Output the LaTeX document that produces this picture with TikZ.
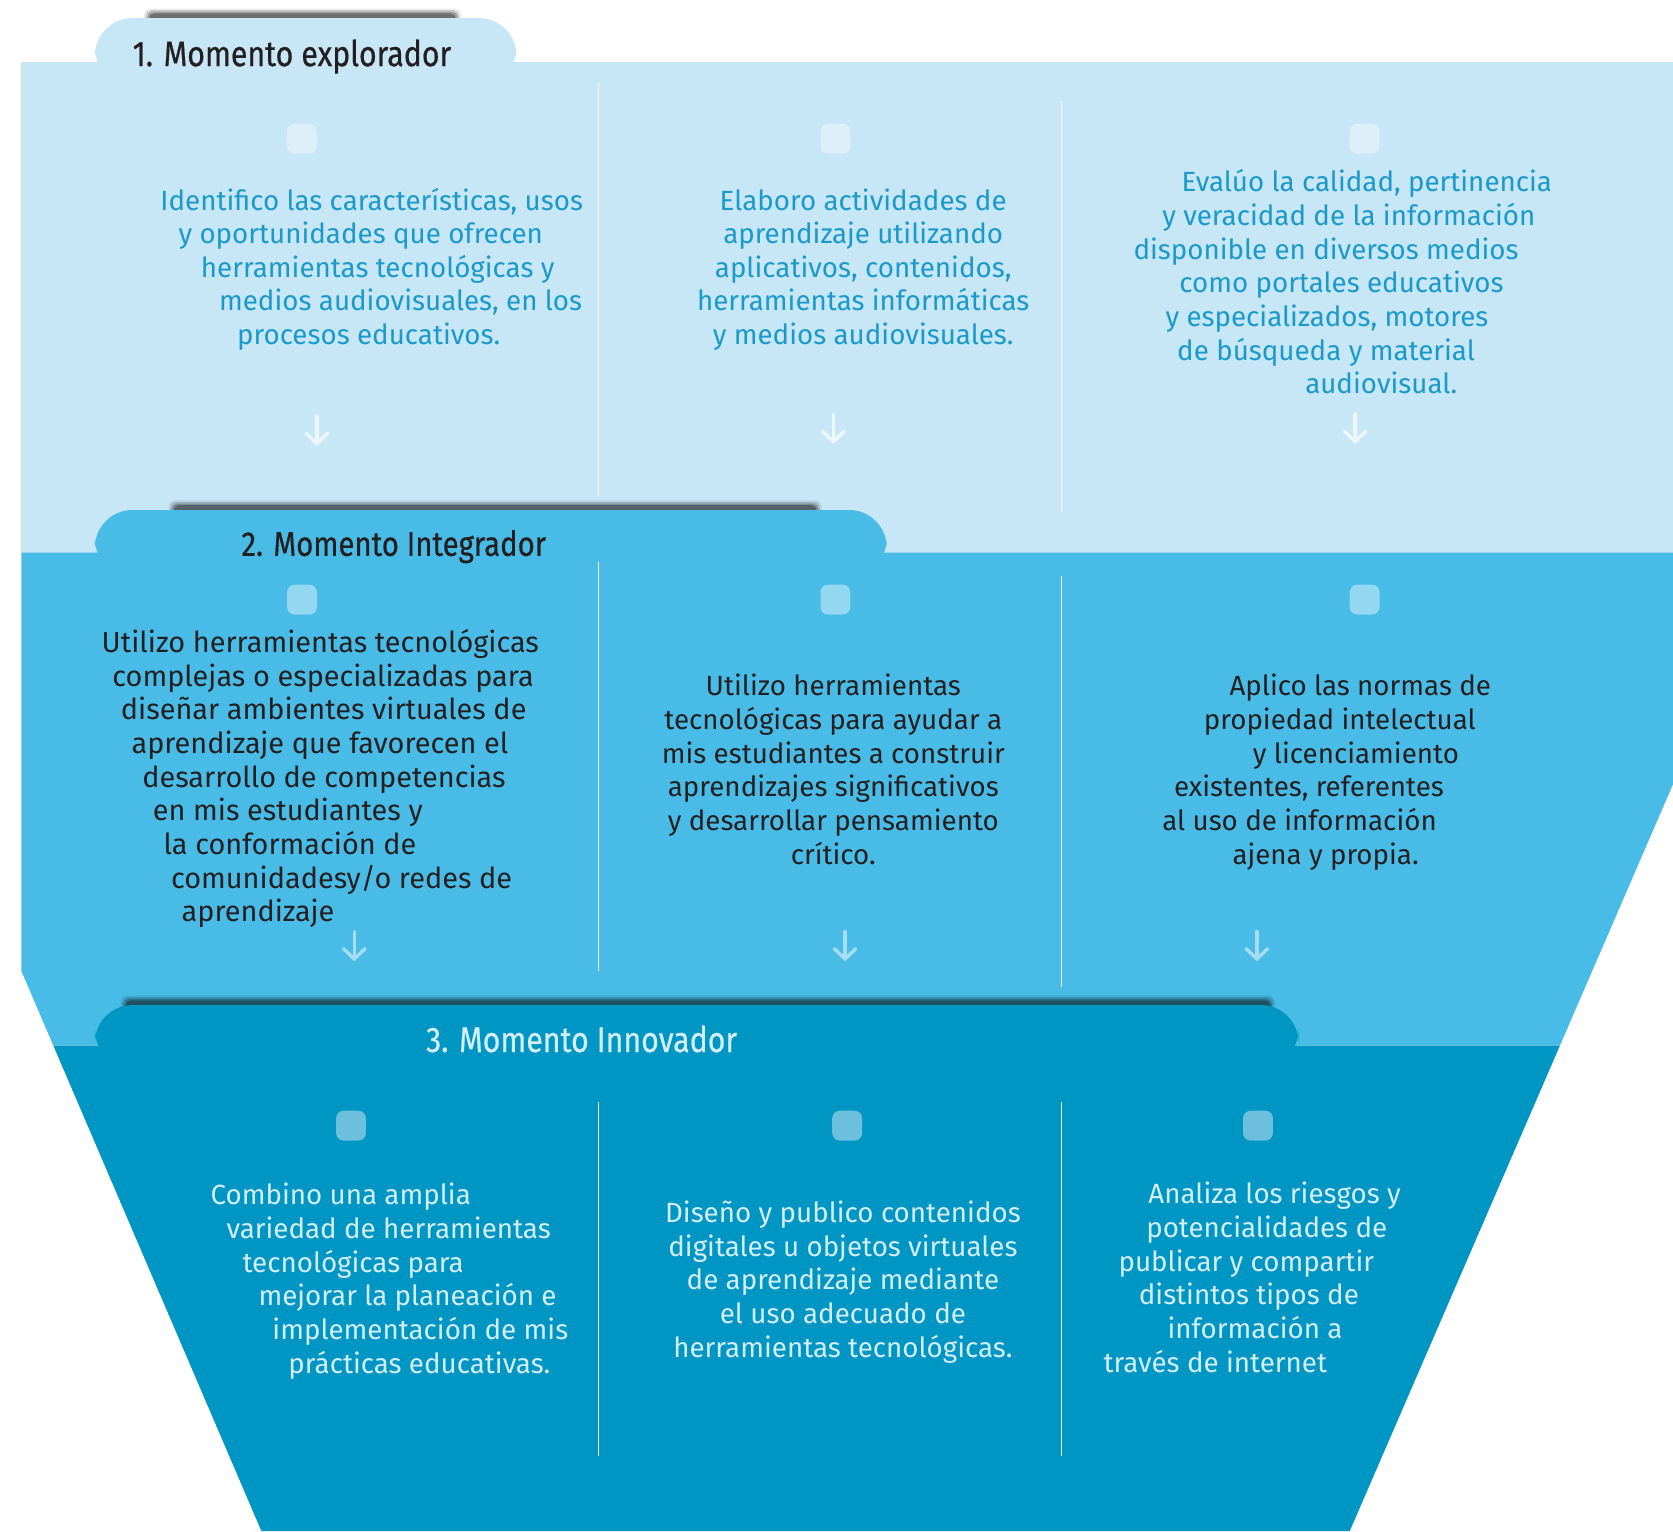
\documentclass[tikz,border=0pt]{standalone}
\usepackage{fontspec}
\setmainfont{Fira Sans}
\newfontfamily\headfont[FakeStretch=0.85,FakeBold=0.5]{Fira Sans}
\usetikzlibrary{arrows.meta}
\definecolor{bandA}{HTML}{C7E6F6}
\definecolor{bandB}{HTML}{48BCE6}
\definecolor{bandC}{HTML}{0096C3}
\definecolor{inkA}{HTML}{1A9ACB}
\definecolor{inkB}{HTML}{231F20}
\definecolor{inkC}{HTML}{D4EEF9}
\definecolor{tileA}{HTML}{DDF0FA}
\definecolor{tileB}{HTML}{93D7F1}
\definecolor{tileC}{HTML}{6CBFDD}
\definecolor{arrowA}{HTML}{EEF7FD}
\definecolor{arrowB}{HTML}{A6DDF3}
\tikzstyle{tab}=[rounded corners=20]
\tikzstyle{tile}=[rectangle, rounded corners=4pt, minimum size=0.56cm, inner sep=0pt]
% anchored at the baseline of the last line
\tikzstyle{txt}=[align=left, anchor=base west, inner sep=0pt, font=\fontsize{14.8}{17.95}\selectfont]
\tikzstyle{txtc}=[align=center, anchor=base, inner sep=0pt, font=\fontsize{14.8}{17.95}\selectfont]
\tikzstyle{head}=[anchor=base west, inner sep=0pt, font=\headfont\fontsize{19}{22}\selectfont]
\tikzstyle{divider}=[white, line width=0.6pt]
\tikzstyle{downarrow}=[line width=1.8pt, line cap=round, -{Straight Barb[length=5.5pt,width=11.5pt,line cap=round]}]
\newcommand{\tabshadow}[3]
{
  \foreach \s/\o in {0/0.08, 1.5/0.14, 3/0.22, 4.5/0.3}
    \fill[black, opacity=\o, rounded corners=3] (#1+\s,#3-9+\s) rectangle (#2-\s,#3+12);
}

\begin{document}
\begin{tikzpicture}[x=0.02cm, y=-0.02cm]
	\useasboundingbox (0,0) rectangle (1568,1435);

	% band 1
	\tabshadow{135}{432}{17}
	\fill[bandA, tab] (89,17) rectangle (484,80);
	\fill[bandA] (20,58) rectangle (1568,518);
	% band 2
	\tabshadow{158}{770}{478}
	\fill[bandB] (20,518) -- (1568,518) -- (1568,735) -- (1462,980) -- (50,980) -- (20,910) -- cycle;
	\fill[bandB, tab] (89,478) rectangle (831,540);
	% band 3
	\tabshadow{113}{1195}{942}
	\fill[bandC] (50,980) -- (1462,980) -- (1265,1435) -- (245,1435) -- cycle;
	\fill[bandC, tab] (89,942) rectangle (1217,1000);

	\draw[divider] (561,78) -- (561,465);
	\draw[divider] (995,95) -- (995,480);
	\draw[divider] (561,527) -- (561,910);
	\draw[divider] (995,540) -- (995,925);
	\draw[divider] (561,1033) -- (561,1365);
	\draw[divider] (995,1033) -- (995,1365);

	\node[head, inkB] (head1) at (124,62) {1. Momento explorador};
	\node[head, inkB, font=\headfont\fontsize{18.4}{22}\selectfont] (head2) at (226,521) {2. Momento Integrador};
	\node[head, inkC] (head3) at (399,986) {3. Momento Innovador};

	\node[tile, fill=tileA] (tile1a) at (283,130) {};
	\node[tile, fill=tileA] (tile1b) at (783,130) {};
	\node[tile, fill=tileA] (tile1c) at (1279,130) {};
	\node[tile, fill=tileB] (tile2a) at (283,562) {};
	\node[tile, fill=tileB] (tile2b) at (783,562) {};
	\node[tile, fill=tileB] (tile2c) at (1279,562) {};
	\node[tile, fill=tileC] (tile3a) at (329,1055) {};
	\node[tile, fill=tileC] (tile3b) at (794,1055) {};
	\node[tile, fill=tileC] (tile3c) at (1179,1055) {};

	% momento explorador
	\node[txt, inkA] (txt1a) at (150,323) {Identifico las características, usos\\
		\hspace*{0.34cm}y oportunidades que ofrecen\\
		\hspace*{0.76cm}herramientas tecnológicas y\\
		\hspace*{1.10cm}medios audiovisuales, en los\\
		\hspace*{1.44cm}procesos educativos.};
	\node[txtc, inkA] (txt1b) at (809,323) {Elaboro actividades de\\aprendizaje utilizando\\aplicativos, contenidos,\\herramientas informáticas\\y medios audiovisuales.};
	\node[txt, inkA] (txt1c) at (1062,369) {\hspace*{0.90cm}Evalúo la calidad, pertinencia\\
		\hspace*{0.54cm}y veracidad de la información\\
		disponible en diversos medios\\
		\hspace*{0.86cm}como portales educativos\\
		\hspace*{0.60cm}y especializados, motores\\
		\hspace*{0.82cm}de búsqueda y material\\
		\hspace*{3.22cm}audiovisual.};

	% momento integrador
	\node[txt, inkB, font=\fontsize{15.4}{17.95}\selectfont] (txt2a) at (95,864) {Utilizo herramientas tecnológicas\\
		\hspace*{0.20cm}complejas o especializadas para\\
		\hspace*{0.36cm}diseñar ambientes virtuales de\\
		\hspace*{0.56cm}aprendizaje que favorecen el\\
		\hspace*{0.76cm}desarrollo de competencias\\
		\hspace*{0.96cm}en mis estudiantes y\\
		\hspace*{1.16cm}la conformación de\\
		\hspace*{1.30cm}comunidadesy/o redes de\\
		\hspace*{1.50cm}aprendizaje};
	\node[txtc, inkB] (txt2b) at (781,810) {Utilizo herramientas\\tecnológicas para ayudar a\\mis estudiantes a construir\\aprendizajes significativos\\y desarrollar pensamiento\\crítico.};
	\node[txt, inkB] (txt2c) at (1089,810) {\hspace*{1.26cm}Aplico las normas de\\
		\hspace*{0.78cm}propiedad intelectual\\
		\hspace*{1.70cm}y licenciamiento\\
		\hspace*{0.22cm}existentes, referentes\\
		al uso de información\\
		\hspace*{1.32cm}ajena y propia.};

	% momento innovador
	\node[txt, inkC] (txt3a) at (197,1287) {Combino una amplia\\
		\hspace*{0.30cm}variedad de herramientas\\
		\hspace*{0.60cm}tecnológicas para\\
		\hspace*{0.90cm}mejorar la planeación e\\
		\hspace*{1.16cm}implementación de mis\\
		\hspace*{1.46cm}prácticas educativas.};
	\node[txtc, inkC] (txt3b) at (790,1272) {Diseño y publico contenidos\\digitales u objetos virtuales\\de aprendizaje mediante\\el uso adecuado de\\herramientas tecnológicas.};
	\node[txt, inkC] (txt3c) at (1034,1286) {\hspace*{0.84cm}Analiza los riesgos y\\
		\hspace*{0.80cm}potencialidades de\\
		\hspace*{0.28cm}publicar y compartir\\
		\hspace*{0.66cm}distintos tipos de\\
		\hspace*{1.20cm}información a\\
		través de internet};

	\coordinate (arr1a) at (297,390);
	\coordinate (arr1b) at (781,388);
	\coordinate (arr1c) at (1270,388);
	\coordinate (arr2a) at (332,873);
	\coordinate (arr2b) at (792,873);
	\coordinate (arr2c) at (1178,873);
	\draw[downarrow, arrowA] (arr1a) -- ++(0,28);
	\draw[downarrow, arrowA] (arr1b) -- ++(0,28);
	\draw[downarrow, arrowA] (arr1c) -- ++(0,28);
	\draw[downarrow, arrowB] (arr2a) -- ++(0,28);
	\draw[downarrow, arrowB] (arr2b) -- ++(0,28);
	\draw[downarrow, arrowB] (arr2c) -- ++(0,28);
\end{tikzpicture}
\end{document}
